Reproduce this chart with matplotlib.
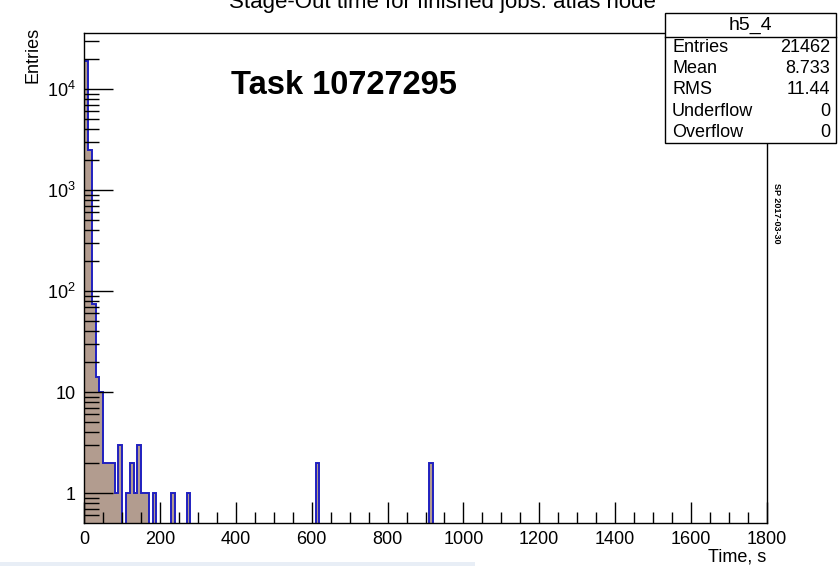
import numpy as np
import matplotlib
matplotlib.use("Agg")
from matplotlib import pyplot as plt
from matplotlib.ticker import LogLocator, FixedLocator, MultipleLocator, NullFormatter, FixedFormatter
from matplotlib.patches import Rectangle

plt.rcParams['font.family'] = ['Liberation Sans', 'DejaVu Sans']
plt.rcParams['mathtext.fontset'] = 'custom'
plt.rcParams['mathtext.rm'] = 'Liberation Sans'
plt.rcParams['mathtext.it'] = 'Liberation Sans'

# histogram h5_4 : 10 s bins from 0 to 1800, only the non-empty bins listed
bin_width = 10
x_max = 1800
bin_starts = [0, 10, 20, 30, 40, 50, 60, 70, 80, 90, 110, 120, 130, 140, 150, 160, 180, 230, 270, 610, 910]
bin_counts = [18850, 2490, 74, 14, 10, 2, 2, 2, 1, 3, 1, 2, 1, 3, 1, 1, 1, 1, 1, 2, 2]

stats_names = ['Entries', 'Mean', 'RMS', 'Underflow', 'Overflow']
stats_values = ['21462', '8.733', '11.44', '0', '0']

edges = np.arange(0, x_max + bin_width, bin_width)
counts = np.zeros(len(edges) - 1)
for s, c in zip(bin_starts, bin_counts):
    counts[s // bin_width] = c

fig = plt.figure(figsize=(8.39, 5.66), dpi=100)
ax = fig.add_axes([84.3 / 839, 43 / 566, (766.7 - 84.3) / 839, (523 - 33.3) / 566])
ax.set_yscale('log', nonpositive='clip')

ax.stairs(counts, edges, fill=True, color='#b29c8f', baseline=0)          # fill
ax.stairs(counts, edges, fill=False, color='#2020c0', linewidth=1.4, baseline=0)  # outline

ax.set_xlim(0, x_max)
ax.set_ylim(0.505, 35600)

# ROOT style ticks
ax.xaxis.set_major_locator(MultipleLocator(200))
ax.xaxis.set_minor_locator(MultipleLocator(50))
ax.tick_params(axis='x', which='major', direction='in', length=15, width=1, pad=6, labelsize=13, top=False)
ax.tick_params(axis='x', which='minor', direction='in', length=8, width=1, top=False)
ax.yaxis.set_major_locator(FixedLocator([1, 10, 100, 1000, 10000]))
ax.yaxis.set_major_formatter(FixedFormatter(['1', '10', r'$10^{2}$', r'$10^{3}$', r'$10^{4}$']))
ax.yaxis.set_minor_locator(LogLocator(base=10, subs=np.arange(2, 10) / 10.0 * 10, numticks=20))
ax.yaxis.set_minor_formatter(NullFormatter())
ax.tick_params(axis='y', which='major', direction='in', length=21, width=1, pad=6, labelsize=13, right=False)
ax.tick_params(axis='y', which='minor', direction='in', length=11, width=1, right=False)
for sp in ax.spines.values():
    sp.set_linewidth(1)

ax.set_xlabel('Time, s', fontsize=13, loc='right', labelpad=0)
fig.text(33 / 839, 1 - 27 / 566, 'Entries', fontsize=13, rotation=90, ha='center', va='top')

fig.text(442 / 839, 1 - 8 / 566, 'Stage-Out time for finished jobs: atlas node', fontsize=16,
         ha='center', va='baseline')
fig.text(344 / 839, 1 - 85 / 566, 'Task 10727295', fontsize=23.5, fontweight='bold', ha='center', va='center')
fig.text(776 / 839, 1 - 213 / 566, 'SP 2017-03-30', fontsize=6.5, fontweight='bold', rotation=-90,
         ha='center', va='center')

# stats box
bx0, bx1, btop, bhead, bbot = 665, 836, 13, 37, 143
fig.patches.append(Rectangle((bx0 / 839, 1 - bbot / 566), (bx1 - bx0) / 839, (bbot - btop) / 566,
                             transform=fig.transFigure, facecolor='white', edgecolor='black', lw=1, zorder=5))
fig.lines.append(plt.Line2D([bx0 / 839, bx1 / 839], [1 - bhead / 566] * 2, transform=fig.transFigure,
                            color='black', lw=1, zorder=6))
fig.text((bx0 + bx1) / 2 / 839, 1 - 25 / 566, 'h5_4', fontsize=14, ha='center', va='center', zorder=7)
row_h = (bbot - bhead) / len(stats_names)
for i, (n, v) in enumerate(zip(stats_names, stats_values)):
    yy = 1 - (bhead + row_h * (i + 0.5)) / 566
    fig.text((bx0 + 7) / 839, yy, n, fontsize=13, ha='left', va='center', zorder=7)
    fig.text((bx1 - 6) / 839, yy, v, fontsize=13, ha='right', va='center', zorder=7)

# light strip at the bottom of the screenshot
fig.patches.append(Rectangle((0, 0), 475 / 839, 4 / 566, transform=fig.transFigure,
                             facecolor='#e8eef6', edgecolor='none', zorder=0))

fig.savefig('out.png', dpi=100)
